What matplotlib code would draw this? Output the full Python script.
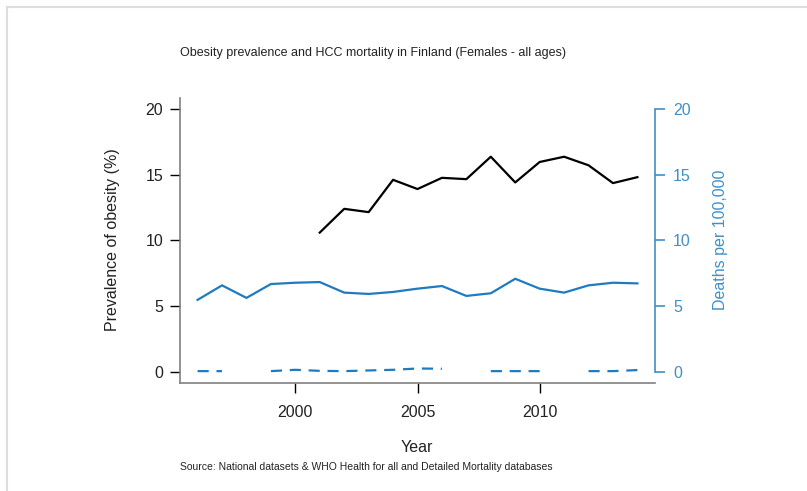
import numpy as np
import matplotlib.pyplot as plt
from matplotlib.lines import Line2D

plt.rcParams['font.family'] = ['Liberation Sans', 'DejaVu Sans']

years = np.arange(1996, 2015)
obesity = [np.nan, np.nan, np.nan, np.nan, np.nan,
           10.6, 12.4, 12.15, 14.6, 13.9, 14.75, 14.65, 16.35, 14.4, 15.95, 16.35, 15.7, 14.35, 14.8]
hcc_deaths = [5.5, 6.6, 5.65, 6.7, 6.8, 6.85, 6.05, 5.95, 6.1, 6.35, 6.55, 5.8, 6.0, 7.1, 6.35, 6.05, 6.6, 6.8, 6.75]
hcc_low = [0.1, 0.1, np.nan, 0.1, 0.2, 0.12, 0.1, 0.15, 0.2, 0.3, 0.28, np.nan, 0.1, 0.1, 0.1, np.nan, 0.1, 0.1, 0.18]

W, H = 807, 491
blue = '#1f7bbf'
blue_ax = '#3f8fc8'

fig = plt.figure(figsize=(W / 100, H / 100), dpi=100)
ax = fig.add_axes([180 / W, 1 - 383 / H, 475 / W, 285 / H])
ax2 = ax.twinx()

ax.plot(years, obesity, color='black', lw=1.6)
ax2.plot(years, hcc_deaths, color=blue, lw=1.6)
ax2.plot(years, hcc_low, color=blue, lw=1.6, dashes=(5, 3.5))

for a in (ax, ax2):
    a.set_xlim(1995.28, 2014.72)
    a.set_ylim(-0.8, 20.8)

ax.set_xticks([2000, 2005, 2010])
ax.set_yticks([0, 5, 10, 15, 20])
ax2.set_yticks([0, 5, 10, 15, 20])

ax.spines['top'].set_visible(False)
ax.spines['right'].set_visible(False)
ax.spines['left'].set_color('#808080')
ax.spines['bottom'].set_color('#808080')
ax.spines['left'].set_linewidth(1.2)
ax.spines['bottom'].set_linewidth(1.2)
ax.tick_params(axis='y', direction='out', length=7, width=1, color='black',
               labelsize=11.5, pad=5, labelcolor='#222222')
ax.tick_params(axis='x', direction='out', length=7, width=1, color='black',
               labelsize=11.5, pad=9, labelcolor='#222222')

for s in ('top', 'left', 'bottom'):
    ax2.spines[s].set_visible(False)
ax2.spines['right'].set_color(blue_ax)
ax2.spines['right'].set_linewidth(1.2)
ax2.spines['right'].set_bounds(0, 20)
ax2.tick_params(axis='y', direction='out', length=7, width=1.2, color=blue_ax,
                labelsize=11.5, pad=6, labelcolor=blue_ax)

fig.text(113 / W, 1 - 240 / H, 'Prevalence of obesity (%)', rotation=90,
         ha='center', va='center', fontsize=11.5, color='#222222')
fig.text(720 / W, 1 - 240 / H, 'Deaths per 100,000', rotation=90,
         ha='center', va='center', fontsize=11.5, color=blue_ax)
fig.text(417 / W, 1 - 447 / H, 'Year', ha='center', va='center', fontsize=11.5,
         color='#222222')
fig.text(180 / W, 1 - 53 / H,
         'Obesity prevalence and HCC mortality in Finland (Females - all ages)',
         ha='left', va='center', fontsize=9, color='#222222')
fig.text(180 / W, 1 - 467 / H,
         'Source: National datasets & WHO Health for all and Detailed Mortality databases',
         ha='left', va='center', fontsize=7.5, color='#222222')

# light frame at top and left of the image
fig.add_artist(Line2D([7 / W, 1], [1 - 7 / H, 1 - 7 / H], color='#dddddd', lw=1.5))
fig.add_artist(Line2D([7 / W, 7 / W], [0, 1 - 7 / H], color='#dddddd', lw=1.5))

fig.savefig('out.png', dpi=100)
